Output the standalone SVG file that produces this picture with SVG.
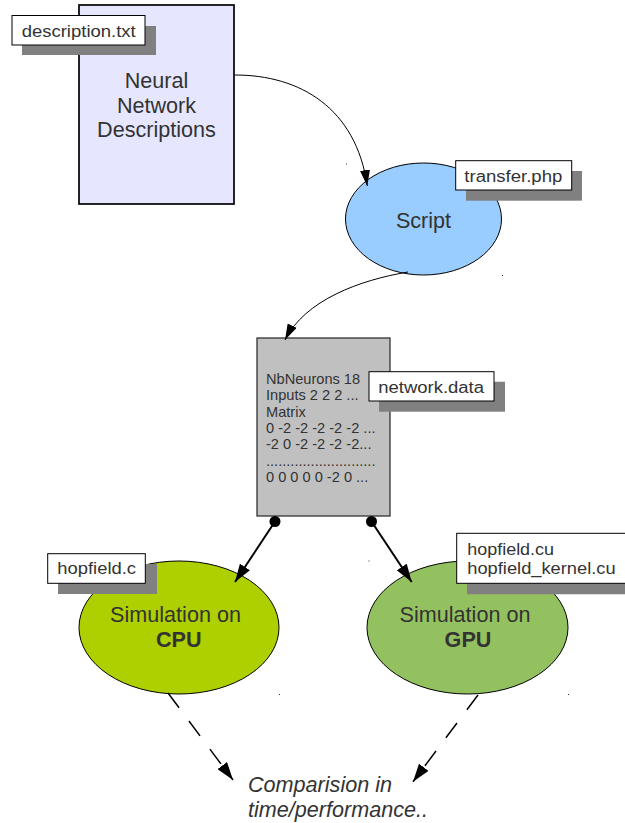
<svg xmlns="http://www.w3.org/2000/svg" width="625" height="823" viewBox="0 0 625 823">
<style>
text{font-family:"Liberation Sans",Arial,sans-serif;fill:#333333}
.big{font-size:21.6px}
.lbl{font-size:16px;fill:#333333}
.data{font-size:14.6px}
.box{fill:#ffffff;stroke:#000000;stroke-width:1}
.shadow{fill:#808080}
.thin{fill:none;stroke:#000000;stroke-width:1}
.thick{fill:none;stroke:#000000;stroke-width:2}
.dash{fill:none;stroke:#000000;stroke-width:1.5;stroke-dasharray:18.5 16.5}
.speck{fill:#333333}
</style>
<defs>
<marker id="headS" markerUnits="userSpaceOnUse" viewBox="0 0 16 10" refX="16" refY="5" markerWidth="16" markerHeight="10" orient="auto">
<path d="M0,0 L16,5 L0,10 z" fill="#000000"/>
</marker>
<marker id="headL" markerUnits="userSpaceOnUse" viewBox="0 0 18 12" refX="18" refY="6" markerWidth="18" markerHeight="12" orient="auto">
<path d="M0,0 L18,6 L0,12 z" fill="#000000"/>
</marker>
</defs>

<g id="description">
<rect x="79" y="5" width="155" height="199" fill="#e6e6ff" stroke="#000000" stroke-width="1.7"/>
<text class="big" text-anchor="middle" x="156.5" y="88">Neural</text>
<text class="big" text-anchor="middle" x="156.5" y="112.5">Network</text>
<text class="big" text-anchor="middle" x="156.5" y="137">Descriptions</text>
</g>

<g id="script">
<ellipse cx="423.5" cy="219" rx="78" ry="56" fill="#99ccff" stroke="#000000" stroke-width="1"/>
<text class="big" text-anchor="middle" x="423.5" y="228">Script</text>
</g>

<g id="networkdata">
<rect x="257" y="338" width="133" height="178" fill="#c0c0c0" stroke="#333333" stroke-width="1.3"/>
<text class="data" x="266" y="384">NbNeurons 18</text>
<text class="data" x="266" y="400.3">Inputs 2 2 2 ...</text>
<text class="data" x="266" y="416.7">Matrix</text>
<text class="data" x="266" y="433">0 -2 -2 -2 -2 -2 ...</text>
<text class="data" x="266" y="449.3">-2 0 -2 -2 -2 -2...</text>
<text class="data" x="266" y="465.7">...........................</text>
<text class="data" x="266" y="482">0 0 0 0 0 -2 0 ...</text>
</g>

<g id="cpu">
<ellipse cx="179" cy="627.5" rx="100" ry="66.5" fill="#aecf00" stroke="#000000" stroke-width="1"/>
<text class="big" text-anchor="middle" x="175.5" y="622.3">Simulation on</text>
<text class="big" text-anchor="middle" x="178.8" y="646.7" font-weight="bold">CPU</text>
</g>

<g id="gpu">
<ellipse cx="467.5" cy="627.5" rx="100.5" ry="66.5" fill="#93c15f" stroke="#000000" stroke-width="1"/>
<text class="big" text-anchor="middle" x="465" y="621.7">Simulation on</text>
<text class="big" text-anchor="middle" x="468" y="647.3" font-weight="bold">GPU</text>
</g>

<g id="comparison">
<text class="big" x="248" y="792.3" font-style="italic" fill="#222222">Comparision in</text>
<text class="big" x="248" y="816.7" font-style="italic" fill="#222222">time/performance..</text>
</g>

<g id="specks">
<rect class="speck" x="346" y="163.5" width="1" height="1"/>
<rect class="speck" x="502" y="275" width="1" height="1"/>
<rect class="speck" x="279" y="694" width="1" height="1"/>
<rect class="speck" x="368.5" y="560.5" width="1" height="1"/>
<rect class="speck" x="568" y="694" width="1" height="1"/>
</g>

<g id="connectors">
<path class="thin" d="M235,75 C300,75 356,108 367.3,186" marker-end="url(#headS)"/>
<path class="thin" d="M408,272 C360,280 305,300 285,340" marker-end="url(#headS)"/>
<circle cx="275" cy="521.5" r="5.5" fill="#000000"/>
<circle cx="371.5" cy="521.5" r="5.5" fill="#000000"/>
<line class="thick" x1="275" y1="521.5" x2="235" y2="582" marker-end="url(#headL)"/>
<line class="thick" x1="371.5" y1="521.5" x2="411.7" y2="582" marker-end="url(#headL)"/>
<line class="dash" x1="168" y1="693" x2="233" y2="780" marker-end="url(#headL)"/>
<line class="dash" x1="478" y1="695" x2="413" y2="781.7" marker-end="url(#headL)"/>
</g>

<g id="label-description">
<rect class="shadow" x="22" y="26" width="134" height="29"/>
<rect class="box" x="12" y="15.5" width="133" height="29.5"/>
<text class="lbl" x="21.7" y="37" textLength="114" lengthAdjust="spacingAndGlyphs">description.txt</text>
</g>

<g id="label-transfer">
<rect class="shadow" x="466" y="171" width="116" height="29.7"/>
<rect class="box" x="455.7" y="160.7" width="116" height="29.3"/>
<text class="lbl" x="464.3" y="182.3" textLength="98" lengthAdjust="spacingAndGlyphs">transfer.php</text>
</g>

<g id="label-network">
<rect class="shadow" x="379" y="381.7" width="126" height="30"/>
<rect class="box" x="369" y="371.7" width="125" height="29.3"/>
<text class="lbl" x="378.3" y="393.3" textLength="105.7" lengthAdjust="spacingAndGlyphs">network.data</text>
</g>

<g id="label-hopfield-c">
<rect class="shadow" x="58" y="564" width="99" height="30"/>
<rect class="box" x="47.7" y="553.7" width="97.6" height="29.6"/>
<text class="lbl" x="57.3" y="574.3" textLength="78.7" lengthAdjust="spacingAndGlyphs">hopfield.c</text>
</g>

<g id="label-hopfield-cu">
<rect class="shadow" x="467" y="543" width="170" height="51.3"/>
<rect class="box" x="456.7" y="533.3" width="175" height="50"/>
<text class="lbl" x="467.3" y="555" textLength="86.7" lengthAdjust="spacingAndGlyphs">hopfield.cu</text>
<text class="lbl" x="467.3" y="574.3" textLength="148.3" lengthAdjust="spacingAndGlyphs">hopfield_kernel.cu</text>
</g>
</svg>
